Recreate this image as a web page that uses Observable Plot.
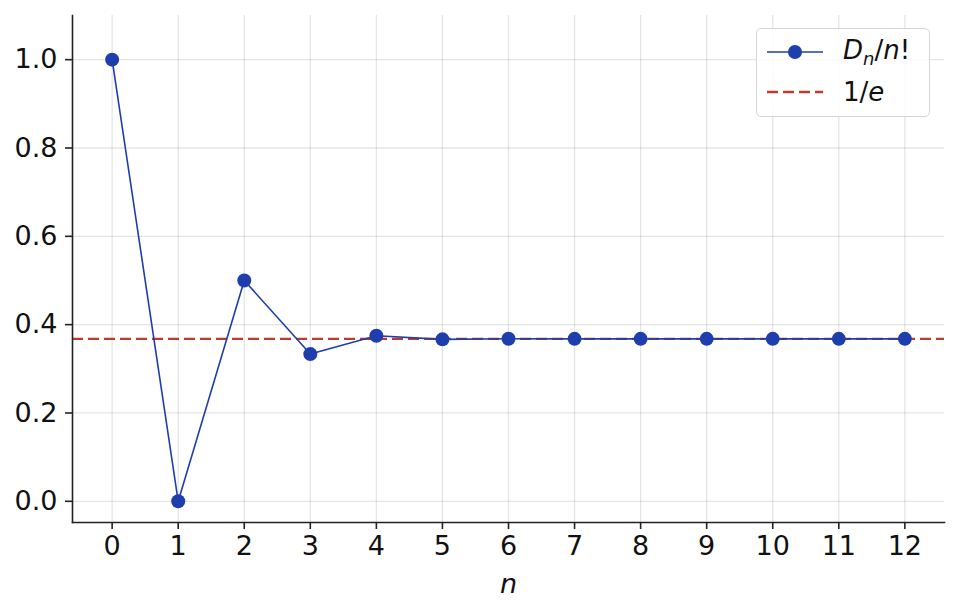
<!DOCTYPE html>
<html>
<head>
<meta charset="utf-8">
<script src="https://cdn.jsdelivr.net/npm/d3@7"></script>
<script src="https://cdn.jsdelivr.net/npm/@observablehq/plot@0.6"></script>
<style>
  body { margin: 0; background: #fff; font-family: "DejaVu Sans", sans-serif; }
  #wrap { position: relative; width: 959px; height: 615px; }
  #legend {
    position: absolute; left: 756px; top: 28px; width: 172px; height: 87px;
    border: 1.5px solid #d6d6d6; border-radius: 5px; background: rgba(255,255,255,0.85);
    font-family: "DejaVu Sans", sans-serif; font-size: 26px; color: #111;
  }
  .row { position: absolute; left: 0; height: 30px; display: flex; align-items: center; }
  .row svg { margin-left: 10px; }
  .row span { margin-left: 20px; }
</style>
</head>
<body>
<div id="wrap">
  <div id="chart"></div>
  <div id="legend">
    <div class="row" style="top:8px">
      <svg width="56" height="20"><line x1="0" y1="10" x2="56" y2="10" stroke="#1f3ead" stroke-width="1.6"/><circle cx="28" cy="10" r="7" fill="#1f3ead"/></svg>
      <span><i>D</i><sub style="font-size:18px"><i>n</i></sub>/<i>n</i>!</span>
    </div>
    <div class="row" style="top:48px">
      <svg width="56" height="20"><line x1="0" y1="10" x2="56" y2="10" stroke="#c0392b" stroke-width="2.4" stroke-dasharray="11,5"/></svg>
      <span>1/<i>e</i></span>
    </div>
  </div>
</div>
<script>
const ns = [0, 1, 2, 3, 4, 5, 6, 7, 8, 9, 10, 11, 12];
const ratios = [1.0, 0.0, 0.5, 0.333333, 0.375, 0.366667, 0.368056, 0.367857, 0.367882, 0.367879, 0.367879, 0.367879, 0.367879];
const invE = [0.367879];
const yTicks = [0.0, 0.2, 0.4, 0.6, 0.8, 1.0];

const data = ns.map((n, i) => ({n, v: ratios[i]}));
const blue = "#1f3ead";
const red = "#c0392b";

const chart = Plot.plot({
  width: 959,
  height: 615,
  marginLeft: 72,
  marginRight: 15,
  marginTop: 15,
  marginBottom: 93,
  style: { fontFamily: "DejaVu Sans, sans-serif", fontSize: "27px", color: "#111", background: "#fff" },
  x: { domain: [-0.6, 12.6] },
  y: { domain: [-0.048, 1.1] },
  marks: [
    Plot.gridX(ns, { stroke: "#000", strokeOpacity: 0.1, strokeWidth: 1.3 }),
    Plot.gridY(yTicks, { stroke: "#000", strokeOpacity: 0.1, strokeWidth: 1.3 }),
    Plot.ruleY(invE, { stroke: red, strokeWidth: 2.4, strokeDasharray: "11,5" }),
    Plot.line(data, { x: "n", y: "v", stroke: blue, strokeWidth: 1.6 }),
    Plot.dot(data, { x: "n", y: "v", fill: blue, r: 7 }),
    Plot.axisX(ns, { tickSize: 7, tickPadding: 6, stroke: "#222", strokeWidth: 1.6, fontSize: 27, label: null, tickFormat: d => String(d) }),
    Plot.axisY(yTicks, { tickSize: 7, tickPadding: 8, stroke: "#222", strokeWidth: 1.6, fontSize: 27, label: null, tickFormat: d => d.toFixed(1) }),
    Plot.frame({ anchor: "left", stroke: "#222", strokeWidth: 1.6 }),
    Plot.frame({ anchor: "bottom", stroke: "#222", strokeWidth: 1.6 }),
    Plot.text(["n"], { frameAnchor: "bottom", dy: 70, fontStyle: "italic", fontSize: 27, fill: "#111" })
  ]
});
document.getElementById("chart").appendChild(chart);
</script>
</body>
</html>
